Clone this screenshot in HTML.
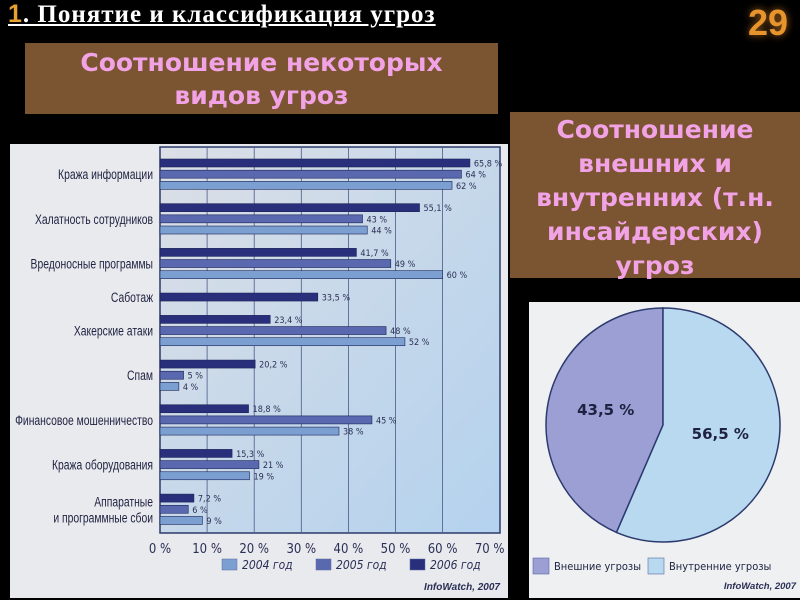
<!DOCTYPE html>
<html><head><meta charset="utf-8">
<style>
body{margin:0;width:800px;height:600px;background:#000;overflow:hidden;position:relative;font-family:"Liberation Sans","DejaVu Sans",sans-serif}
.abs{position:absolute}
.box{background:#7b5531;color:#f2a3e6;font-weight:bold;text-align:center;font-family:"DejaVu Sans","Liberation Sans",sans-serif}
</style></head><body>
<div class="abs" style="left:8px;top:0px;font-family:'Liberation Serif',serif;font-weight:bold;font-size:25px;letter-spacing:1px;color:#fff;text-decoration:underline;white-space:nowrap"><span style="color:#e8a030;font-family:'Liberation Sans',sans-serif;font-weight:bold">1</span>. Понятие и классификация угроз</div>
<div class="abs" style="left:748px;top:2px;font-size:36px;font-weight:bold;color:#e8942c;text-shadow:0 0 8px #a06020">29</div>
<div class="abs box" style="left:25px;top:43px;width:473px;height:71px;font-size:25px;line-height:33px;padding-top:3px;box-sizing:border-box">Соотношение некоторых<br>видов угроз</div>
<div class="abs box" style="left:510px;top:112px;width:290px;height:166px;font-size:25px;line-height:34px;padding-top:1px;box-sizing:border-box">Соотношение<br>внешних и<br>внутренних (т.н.<br>инсайдерских)<br>угроз</div>

<svg class="abs" style="left:0;top:0" width="800" height="600">
<defs>
<linearGradient id="pg" x1="0" y1="0" x2="1" y2="1"><stop offset="0" stop-color="#dcdfe6"/><stop offset="0.5" stop-color="#c6d8ea"/><stop offset="1" stop-color="#b4d2ee"/></linearGradient>
</defs>
<rect x="10" y="144" width="498" height="454" fill="#e9eaee"/>
<rect x="160" y="147" width="340" height="386" fill="url(#pg)" stroke="#2b3a6a" stroke-width="1.5"/>
<g id="bars"></g>
<rect x="529" y="302" width="271" height="296" fill="#eef0f2"/>
<g id="pie"></g>
</svg>
<script>
const categories=["Кража информации","Халатность сотрудников","Вредоносные программы","Саботаж","Хакерские атаки","Спам","Финансовое мошенничество","Кража оборудования","Аппаратные|и программные сбои"];
const v2006=[65.8,55.1,41.7,33.5,23.4,20.2,18.8,15.3,7.2];
const v2005=[64,43,49,null,48,5,45,21,6];
const v2004=[62,44,60,null,52,4,38,19,9];
const ticks=[0,10,20,30,40,50,60,70];
const years=["2004 год","2005 год","2006 год"];
const pieLabels=["Внешние угрозы","Внутренние угрозы"];
const pieValues=[43.5,56.5];

const NS="http://www.w3.org/2000/svg";
const g=document.getElementById('bars');
function mk(t,a,p){const e=document.createElementNS(NS,t);for(const k in a)e.setAttribute(k,a[k]);(p||g).appendChild(e);return e;}
const x0=160,pxPer=47.1;
function xs(v){return x0+v*pxPer/10;}
const rowH=11.17,top0=159;
function fmt(v){return String(v).replace('.',',')+' %';}
ticks.forEach(t=>{
  if(t>0&&t<70){const l=mk('line',{x1:xs(t),x2:xs(t),y1:147,y2:533,stroke:'#4a5a88','stroke-width':0.8});
  
  }
  const tx=mk('text',{x:xs(t),y:553,'text-anchor':'middle','font-size':13,fill:'#2a2f55','font-family':'DejaVu Sans Condensed, Liberation Sans Narrow, sans-serif'});
  tx.textContent=t+' %';
  
  
});
const cols=['#2a2f7c','#5a68b0','#7c9fd2'];
let row=0;
categories.forEach((c,i)=>{
  const vals=[v2006[i],v2005[i],v2004[i]].filter(v=>v!==null);
  vals.forEach((v,j)=>{
    const y=top0+(row+j)*rowH;
    const r=mk('rect',{x:x0,y:y,width:xs(v)-x0,height:8,fill:cols[j],stroke:'#1c2356','stroke-width':0.6});
    
    
    const t=mk('text',{x:xs(v)+4,y:y+7.5,'font-size':9,fill:'#2a2f55','font-family':'DejaVu Sans Condensed, sans-serif'});
    t.textContent=fmt(v);
    
    
  });
  const mid=top0+(row+(vals.length-1)/2)*rowH+4;
  const parts=c.split('|');
  parts.forEach((p,k)=>{
    const t=mk('text',{x:0,y:mid+5+(k-(parts.length-1)/2)*16,'text-anchor':'end','font-size':14,fill:'#1e2240','font-family':'Liberation Sans, sans-serif',transform:'translate(153,0) scale(0.74,1)'});
    t.textContent=p;
    
    
  });
  row+=vals.length+1;
});
years.forEach((y,i)=>{
  const lx=222+i*94;
  const r=mk('rect',{x:lx,y:559,width:15,height:11,fill:cols[2-i],stroke:'#5a6aa0','stroke-width':0.5});
  
  
  const t=mk('text',{x:lx+20,y:569,'font-size':12,'font-style':'italic',fill:'#2a2f55','font-family':'DejaVu Sans Condensed, sans-serif'});
  t.textContent=y;
  
  
});
const src=mk('text',{x:500,y:590,'text-anchor':'end','font-size':10,'font-weight':'bold','font-style':'italic',fill:'#2a2f55'});
src.textContent='InfoWatch, 2007';



const pg=document.getElementById('pie');
const cx=663,cy=425,R=117;
const total=pieValues.reduce((a,b)=>a+b,0);
const pcols=['#9c9fd4','#b9d9f0'];
let a0=-Math.PI/2;
pieValues.forEach((v,i)=>{
  const ang=v/total*2*Math.PI;
  let s,e;
  if(i===0){s=a0-ang;e=a0;}else{s=a0;e=a0+ang;}
  const p1=[cx+R*Math.cos(s),cy+R*Math.sin(s)],p2=[cx+R*Math.cos(e),cy+R*Math.sin(e)];
  const large=ang>Math.PI?1:0;
  const p=mk('path',{d:`M${cx},${cy} L${p1[0]},${p1[1]} A${R},${R} 0 ${large} 1 ${p2[0]},${p2[1]} Z`,fill:pcols[i],stroke:'#2c3a6e','stroke-width':1.5},pg);
  
  
  const mid=(s+e)/2;
  const t=mk('text',{x:cx+R*0.5*Math.cos(mid),y:cy+R*0.5*Math.sin(mid)+2,'text-anchor':'middle','font-size':15,'font-weight':'bold',fill:'#1e2240','font-family':'DejaVu Sans, sans-serif'},pg);
  t.textContent=fmt(v);
  
  
  const lx=533+i*115;
  const r=mk('rect',{x:lx,y:558,width:16,height:16,fill:pcols[i],stroke:'#5a6aa0','stroke-width':0.6},pg);
  
  
  const tl=mk('text',{x:lx+21,y:570,'font-size':11,fill:'#1e2240','font-family':'DejaVu Sans Condensed, sans-serif'},pg);
  tl.textContent=pieLabels[i];
  
  
});
const s2=mk('text',{x:796,y:589,'text-anchor':'end','font-size':9.5,'font-weight':'bold','font-style':'italic',fill:'#2a2f55'},pg);
s2.textContent='InfoWatch, 2007';


</script>
</body></html>
